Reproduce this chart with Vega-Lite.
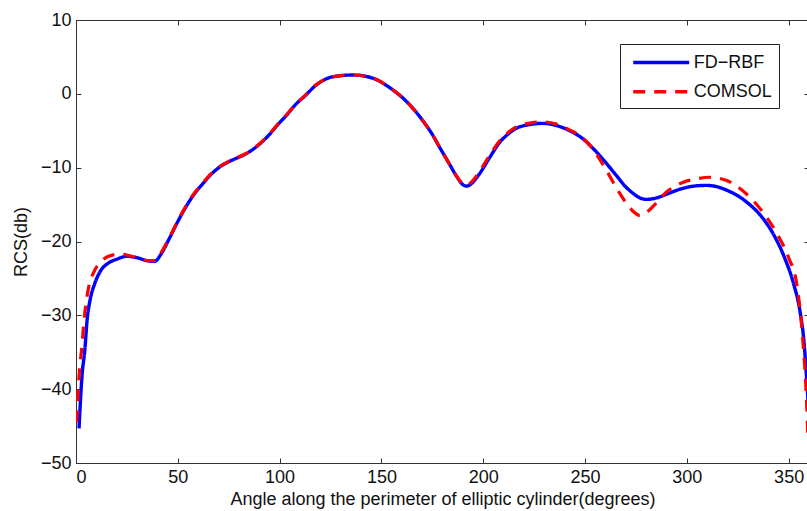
{
  "$schema": "https://vega.github.io/schema/vega-lite/v6.json",
  "width": 733,
  "height": 443,
  "autosize": {"type": "none"},
  "padding": {"left": 76, "top": 20, "right": 0, "bottom": 48},
  "background": "white",
  "config": {
    "font": "Liberation Sans",
    "view": {"stroke": "#333333", "strokeWidth": 1},
    "axis": {
      "grid": false,
      "domainColor": "#333333",
      "tickColor": "#333333",
      "tickSize": -5,
      "labelFontSize": 18,
      "labelColor": "#111111",
      "titleFontSize": 18,
      "titleFontWeight": "normal",
      "titleColor": "#111111",
      "labelFont": "Liberation Sans",
      "titleFont": "Liberation Sans"
    },
    "legend": {
      "orient": "none",
      "legendX": 544,
      "legendY": 24,
      "strokeColor": "#222222",
      "fillColor": "white",
      "padding": 7,
      "labelFontSize": 18,
      "labelFont": "Liberation Sans",
      "labelColor": "#111111",
      "symbolType": "M-3,0H3",
      "symbolSize": 348,
      "symbolStrokeWidth": 3.5,
      "symbolOffset": 22.7,
      "symbolFillColor": "transparent",
      "rowPadding": 8.3,
      "labelOffset": 21
    }
  },
  "data": {
    "values": [
      {"series": "FD−RBF", "angle": 1.5, "rcs": -45.3},
      {"series": "FD−RBF", "angle": 2, "rcs": -42.5},
      {"series": "FD−RBF", "angle": 3, "rcs": -38},
      {"series": "FD−RBF", "angle": 4.3, "rcs": -34.8},
      {"series": "FD−RBF", "angle": 5.5, "rcs": -30.5},
      {"series": "FD−RBF", "angle": 7, "rcs": -27.8},
      {"series": "FD−RBF", "angle": 9.2, "rcs": -25.7},
      {"series": "FD−RBF", "angle": 12, "rcs": -24.0},
      {"series": "FD−RBF", "angle": 16, "rcs": -22.9},
      {"series": "FD−RBF", "angle": 20, "rcs": -22.4},
      {"series": "FD−RBF", "angle": 25, "rcs": -22.0},
      {"series": "FD−RBF", "angle": 30, "rcs": -22.2},
      {"series": "FD−RBF", "angle": 35, "rcs": -22.6},
      {"series": "FD−RBF", "angle": 38.5, "rcs": -22.7},
      {"series": "FD−RBF", "angle": 42, "rcs": -21.6},
      {"series": "FD−RBF", "angle": 46, "rcs": -19.5},
      {"series": "FD−RBF", "angle": 50, "rcs": -17.3},
      {"series": "FD−RBF", "angle": 54, "rcs": -15.3},
      {"series": "FD−RBF", "angle": 58, "rcs": -13.6},
      {"series": "FD−RBF", "angle": 62.5, "rcs": -12.1},
      {"series": "FD−RBF", "angle": 66, "rcs": -11.0},
      {"series": "FD−RBF", "angle": 70.6, "rcs": -9.9},
      {"series": "FD−RBF", "angle": 75, "rcs": -9.2},
      {"series": "FD−RBF", "angle": 79, "rcs": -8.7},
      {"series": "FD−RBF", "angle": 83, "rcs": -8.2},
      {"series": "FD−RBF", "angle": 87, "rcs": -7.5},
      {"series": "FD−RBF", "angle": 91, "rcs": -6.6},
      {"series": "FD−RBF", "angle": 95, "rcs": -5.5},
      {"series": "FD−RBF", "angle": 99, "rcs": -4.2},
      {"series": "FD−RBF", "angle": 103.4, "rcs": -2.9},
      {"series": "FD−RBF", "angle": 108, "rcs": -1.4},
      {"series": "FD−RBF", "angle": 112, "rcs": -0.4},
      {"series": "FD−RBF", "angle": 118, "rcs": 1.2},
      {"series": "FD−RBF", "angle": 126, "rcs": 2.3},
      {"series": "FD−RBF", "angle": 136, "rcs": 2.55},
      {"series": "FD−RBF", "angle": 146, "rcs": 2.1},
      {"series": "FD−RBF", "angle": 154, "rcs": 0.85},
      {"series": "FD−RBF", "angle": 162, "rcs": -0.95},
      {"series": "FD−RBF", "angle": 170.5, "rcs": -3.7},
      {"series": "FD−RBF", "angle": 175, "rcs": -5.5},
      {"series": "FD−RBF", "angle": 178.7, "rcs": -7.3},
      {"series": "FD−RBF", "angle": 183.6, "rcs": -9.6},
      {"series": "FD−RBF", "angle": 187, "rcs": -11.2},
      {"series": "FD−RBF", "angle": 190, "rcs": -12.3},
      {"series": "FD−RBF", "angle": 192, "rcs": -12.5},
      {"series": "FD−RBF", "angle": 194, "rcs": -12.2},
      {"series": "FD−RBF", "angle": 198, "rcs": -10.9},
      {"series": "FD−RBF", "angle": 203, "rcs": -8.7},
      {"series": "FD−RBF", "angle": 208, "rcs": -6.6},
      {"series": "FD−RBF", "angle": 212, "rcs": -5.5},
      {"series": "FD−RBF", "angle": 216, "rcs": -4.7},
      {"series": "FD−RBF", "angle": 222, "rcs": -4.2},
      {"series": "FD−RBF", "angle": 229.5, "rcs": -4.0},
      {"series": "FD−RBF", "angle": 236, "rcs": -4.3},
      {"series": "FD−RBF", "angle": 241, "rcs": -4.8},
      {"series": "FD−RBF", "angle": 249, "rcs": -6.1},
      {"series": "FD−RBF", "angle": 257, "rcs": -8.3},
      {"series": "FD−RBF", "angle": 265.5, "rcs": -11.1},
      {"series": "FD−RBF", "angle": 270, "rcs": -12.6},
      {"series": "FD−RBF", "angle": 273.7, "rcs": -13.5},
      {"series": "FD−RBF", "angle": 277, "rcs": -14.1},
      {"series": "FD−RBF", "angle": 280, "rcs": -14.3},
      {"series": "FD−RBF", "angle": 285, "rcs": -14.1},
      {"series": "FD−RBF", "angle": 290, "rcs": -13.6},
      {"series": "FD−RBF", "angle": 298, "rcs": -12.8},
      {"series": "FD−RBF", "angle": 305, "rcs": -12.45},
      {"series": "FD−RBF", "angle": 310, "rcs": -12.4},
      {"series": "FD−RBF", "angle": 315, "rcs": -12.6},
      {"series": "FD−RBF", "angle": 320, "rcs": -13.1},
      {"series": "FD−RBF", "angle": 325, "rcs": -13.8},
      {"series": "FD−RBF", "angle": 330, "rcs": -14.8},
      {"series": "FD−RBF", "angle": 336, "rcs": -16.4},
      {"series": "FD−RBF", "angle": 342.5, "rcs": -19.0},
      {"series": "FD−RBF", "angle": 348, "rcs": -22.2},
      {"series": "FD−RBF", "angle": 352.3, "rcs": -25.6},
      {"series": "FD−RBF", "angle": 355.6, "rcs": -29.5},
      {"series": "FD−RBF", "angle": 357.5, "rcs": -33.5},
      {"series": "FD−RBF", "angle": 358.8, "rcs": -38.4},
      {"series": "FD−RBF", "angle": 360, "rcs": -44},
      {"series": "COMSOL", "angle": 0.3, "rcs": -44.5},
      {"series": "COMSOL", "angle": 1, "rcs": -40.5},
      {"series": "COMSOL", "angle": 2, "rcs": -36.5},
      {"series": "COMSOL", "angle": 2.7, "rcs": -34.8},
      {"series": "COMSOL", "angle": 4, "rcs": -30.5},
      {"series": "COMSOL", "angle": 6, "rcs": -26.5},
      {"series": "COMSOL", "angle": 9, "rcs": -24.0},
      {"series": "COMSOL", "angle": 12, "rcs": -22.8},
      {"series": "COMSOL", "angle": 16, "rcs": -22.0},
      {"series": "COMSOL", "angle": 21.6, "rcs": -21.7},
      {"series": "COMSOL", "angle": 26, "rcs": -21.9},
      {"series": "COMSOL", "angle": 31, "rcs": -22.3},
      {"series": "COMSOL", "angle": 35, "rcs": -22.6},
      {"series": "COMSOL", "angle": 38.5, "rcs": -22.6},
      {"series": "COMSOL", "angle": 42, "rcs": -21.4},
      {"series": "COMSOL", "angle": 46, "rcs": -19.4},
      {"series": "COMSOL", "angle": 50, "rcs": -17.2},
      {"series": "COMSOL", "angle": 54, "rcs": -15.2},
      {"series": "COMSOL", "angle": 58, "rcs": -13.5},
      {"series": "COMSOL", "angle": 62.5, "rcs": -12.0},
      {"series": "COMSOL", "angle": 66, "rcs": -10.9},
      {"series": "COMSOL", "angle": 70.6, "rcs": -9.85},
      {"series": "COMSOL", "angle": 75, "rcs": -9.15},
      {"series": "COMSOL", "angle": 79, "rcs": -8.65},
      {"series": "COMSOL", "angle": 83, "rcs": -8.15},
      {"series": "COMSOL", "angle": 87, "rcs": -7.45},
      {"series": "COMSOL", "angle": 91, "rcs": -6.55},
      {"series": "COMSOL", "angle": 95, "rcs": -5.45},
      {"series": "COMSOL", "angle": 99, "rcs": -4.15},
      {"series": "COMSOL", "angle": 103.4, "rcs": -2.85},
      {"series": "COMSOL", "angle": 108, "rcs": -1.35},
      {"series": "COMSOL", "angle": 112, "rcs": -0.35},
      {"series": "COMSOL", "angle": 118, "rcs": 1.25},
      {"series": "COMSOL", "angle": 126, "rcs": 2.3},
      {"series": "COMSOL", "angle": 136, "rcs": 2.55},
      {"series": "COMSOL", "angle": 146, "rcs": 2.1},
      {"series": "COMSOL", "angle": 154, "rcs": 0.85},
      {"series": "COMSOL", "angle": 162, "rcs": -0.95},
      {"series": "COMSOL", "angle": 170.5, "rcs": -3.7},
      {"series": "COMSOL", "angle": 175, "rcs": -5.5},
      {"series": "COMSOL", "angle": 178.7, "rcs": -7.3},
      {"series": "COMSOL", "angle": 183.6, "rcs": -9.6},
      {"series": "COMSOL", "angle": 187, "rcs": -11.2},
      {"series": "COMSOL", "angle": 190, "rcs": -12.2},
      {"series": "COMSOL", "angle": 192, "rcs": -12.4},
      {"series": "COMSOL", "angle": 194, "rcs": -12.0},
      {"series": "COMSOL", "angle": 198, "rcs": -10.6},
      {"series": "COMSOL", "angle": 203, "rcs": -8.4},
      {"series": "COMSOL", "angle": 208, "rcs": -6.4},
      {"series": "COMSOL", "angle": 212, "rcs": -5.3},
      {"series": "COMSOL", "angle": 216, "rcs": -4.5},
      {"series": "COMSOL", "angle": 222, "rcs": -4.0},
      {"series": "COMSOL", "angle": 229.5, "rcs": -3.8},
      {"series": "COMSOL", "angle": 236, "rcs": -4.1},
      {"series": "COMSOL", "angle": 241, "rcs": -4.7},
      {"series": "COMSOL", "angle": 249, "rcs": -6.0},
      {"series": "COMSOL", "angle": 253, "rcs": -7.2},
      {"series": "COMSOL", "angle": 257.3, "rcs": -8.9},
      {"series": "COMSOL", "angle": 261, "rcs": -10.6},
      {"series": "COMSOL", "angle": 265.5, "rcs": -12.8},
      {"series": "COMSOL", "angle": 270, "rcs": -14.7},
      {"series": "COMSOL", "angle": 274, "rcs": -16.0},
      {"series": "COMSOL", "angle": 277, "rcs": -16.5},
      {"series": "COMSOL", "angle": 280, "rcs": -16.1},
      {"series": "COMSOL", "angle": 285, "rcs": -14.8},
      {"series": "COMSOL", "angle": 290, "rcs": -13.3},
      {"series": "COMSOL", "angle": 293, "rcs": -12.7},
      {"series": "COMSOL", "angle": 298, "rcs": -12.0},
      {"series": "COMSOL", "angle": 305, "rcs": -11.5},
      {"series": "COMSOL", "angle": 311, "rcs": -11.3},
      {"series": "COMSOL", "angle": 316, "rcs": -11.45},
      {"series": "COMSOL", "angle": 321, "rcs": -11.9},
      {"series": "COMSOL", "angle": 325, "rcs": -12.6},
      {"series": "COMSOL", "angle": 329, "rcs": -13.5},
      {"series": "COMSOL", "angle": 337, "rcs": -15.9},
      {"series": "COMSOL", "angle": 344, "rcs": -18.8},
      {"series": "COMSOL", "angle": 350, "rcs": -22.2},
      {"series": "COMSOL", "angle": 354, "rcs": -25.8},
      {"series": "COMSOL", "angle": 357, "rcs": -33.5},
      {"series": "COMSOL", "angle": 358.8, "rcs": -41.6},
      {"series": "COMSOL", "angle": 359.5, "rcs": -47}
    ]
  },
  "encoding": {
    "x": {
      "field": "angle",
      "type": "quantitative",
      "scale": {"domain": [0, 360], "nice": false, "zero": false}
    },
    "y": {
      "field": "rcs",
      "type": "quantitative",
      "scale": {"domain": [-50, 10], "nice": false, "zero": false}
    },
    "color": {
      "field": "series",
      "type": "nominal",
      "scale": {"domain": ["FD−RBF", "COMSOL"], "range": ["#0000FF", "#FF0000"]},
      "legend": {"title": null}
    },
    "strokeDash": {
      "field": "series",
      "type": "nominal",
      "scale": {"domain": ["FD−RBF", "COMSOL"], "range": [[1, 0], [12, 9]]},
      "legend": {"title": null}
    }
  },
  "layer": [
    {
      "transform": [{"filter": "datum.series === 'FD−RBF'"}],
      "mark": {"type": "line", "strokeWidth": 3.4, "interpolate": "monotone", "clip": true},
      "encoding": {
        "x": {
          "field": "angle",
          "type": "quantitative",
          "axis": {"orient": "bottom", "values": [0, 50, 100, 150, 200, 250, 300, 350], "title": "Angle along the perimeter of elliptic cylinder(degrees)", "labelPadding": 10, "titlePadding": 4}
        },
        "y": {
          "field": "rcs",
          "type": "quantitative",
          "axis": {"orient": "left", "values": [-50, -40, -30, -20, -10, 0, 10], "title": "RCS(db)", "labelPadding": 10, "titlePadding": 10}
        }
      }
    },
    {
      "transform": [{"filter": "datum.series === 'COMSOL'"}],
      "mark": {"type": "line", "strokeWidth": 3.2, "interpolate": "monotone", "clip": true},
      "encoding": {
        "x": {
          "field": "angle",
          "type": "quantitative",
          "axis": {"orient": "top", "values": [0, 50, 100, 150, 200, 250, 300, 350], "labels": false, "title": null, "domain": false}
        },
        "y": {
          "field": "rcs",
          "type": "quantitative",
          "axis": {"orient": "right", "values": [-50, -40, -30, -20, -10, 0, 10], "labels": false, "title": null, "domain": false}
        }
      }
    }
  ],
  "resolve": {"axis": {"x": "independent", "y": "independent"}}
}
